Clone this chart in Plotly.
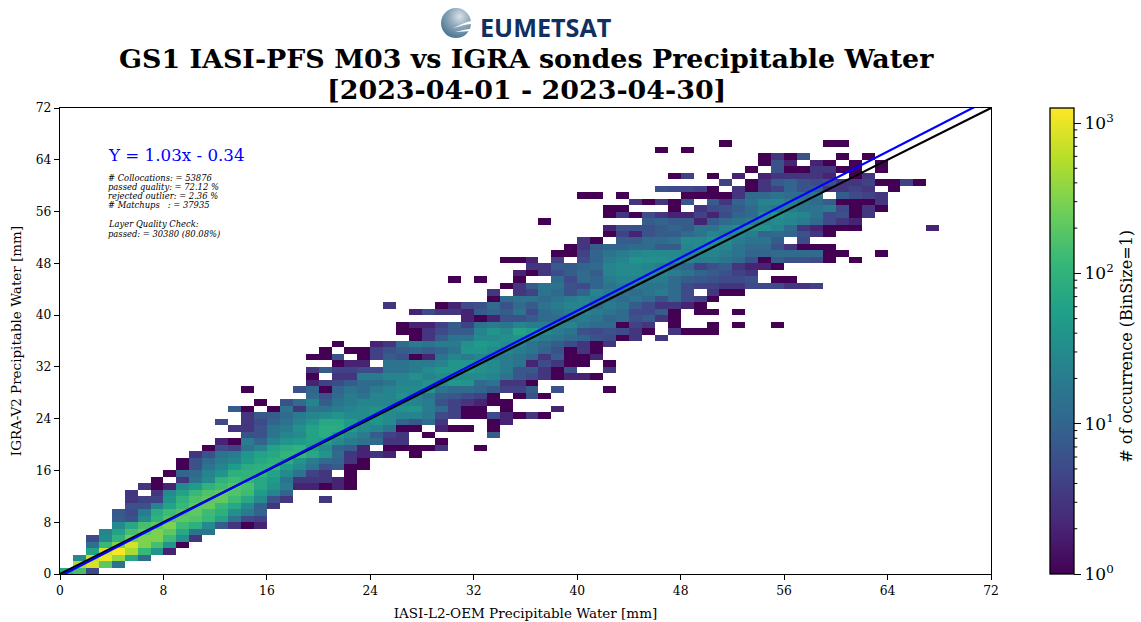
import math
import plotly.graph_objects as go

# first x bin of each y bin (bin size = 1 mm), y bins 0..66
row_start = [0,1,1,2,2,2,3,4,4,4,5,5,5,6,7,8,9,9,10,11,12,14,13,12,14,13,15,19,14,19,19,19,21,19,20,21,
             27,26,26,31,27,25,33,33,34,30,35,36,34,38,39,40,42,42,37,42,42,44,40,46,51,47,53,54,54,46,51]
# counts per bin (0 = empty bin)
row_counts = [
 [80,150,5],
 [500,800,200,15],
 [30,700,1000,400,70,12],
 [60,800,1200,500,120,40,2],
 [14,120,300,800,300,150,40,1],
 [5,30,100,250,300,300,130,35,3],
 [25,60,150,200,300,200,70,15,15],
 [30,70,150,200,300,130,90,30,8,3,1,2],
 [8,6,30,100,170,200,170,120,60,15,5,4],
 [7,5,20,80,130,170,200,130,90,35,20,10],
 [6,6,25,60,120,200,220,120,70,30,9,3],
 [3,4,4,40,100,160,200,220,130,70,30,6,3,0,0,3],
 [3,0,3,30,60,120,170,200,170,130,50,25,10],
 [3,1,2,30,50,100,130,170,150,70,40,20,2,2,1,2,1],
 [1,0,3,15,30,100,130,100,70,50,15,3,3,3,2,1],
 [1,10,12,25,40,90,100,100,60,30,15,4,3,0,1],
 [1,6,15,25,50,80,90,110,50,30,15,6,8,1,1],
 [1,6,12,20,25,50,70,90,80,40,20,12,10,3,1],
 [3,6,15,20,40,60,70,110,110,70,40,12,3,2,3,2,0,1],
 [1,5,4,15,25,60,80,100,50,30,10,8,2,0,1,1,1,1,3,0,0,1],
 [2,1,20,10,25,40,50,60,50,30,20,15,12,3,3,0,0,1],
 [6,6,15,25,30,60,80,50,30,20,8,4,3,0,1,0,0,0,0,8],
 [3,3,6,15,20,35,60,80,80,50,30,25,15,1,1,0,2,1,1,0,1],
 [5,0,3,5,10,15,25,40,70,70,50,30,40,30,10,7,12,3,0,0,0,1,2],
 [3,7,8,12,20,25,30,40,30,30,40,30,25,25,18,5,4,1,1,5,2,1,3,1],
 [8,1,0,1,15,3,15,15,20,25,30,35,30,35,40,20,12,4,1,1,0,1,0,0,0,2],
 [1,0,6,12,25,8,15,20,25,25,25,25,25,20,6,4,3,2,1,1],
 [12,6,12,20,15,25,25,35,25,15,8,7,5,4,1,0,1,6,1],
 [1,0,0,0,6,10,1,10,15,12,20,25,30,30,40,15,12,12,10,7,4,4,8,0,6,0,0,0,1],
 [2,4,5,8,12,12,15,25,25,35,30,45,40,12,15,3,3,1],
 [1,0,3,3,20,20,25,25,35,25,30,30,30,30,25,15,7,5,3,1,2,2,1],
 [3,8,4,4,5,5,15,15,20,30,40,40,45,35,30,20,7,7,3,1,6,0,0,3],
 [1,2,2,0,15,15,20,20,25,40,40,35,30,20,15,2,5,3,1,1,0,1],
 [1,1,6,0,1,4,8,6,1,2,15,25,20,25,20,20,15,10,3,8,1,1,2],
 [1,0,1,1,4,6,8,10,8,10,15,40,40,30,25,20,15,10,6,1,3,1],
 [1,0,0,2,3,12,20,15,20,20,35,50,40,30,25,15,12,8,5,3,1,3],
 [1,3,8,15,15,30,30,35,40,25,20,15,12,10,6,5,1,3,0,3],
 [1,1,3,5,8,8,25,40,30,60,50,30,20,15,6,5,6,5,3,1,0,3,1,1,1],
 [1,2,2,4,8,4,15,20,15,25,20,20,25,25,15,12,12,1,4,3,0,1,0,0,1,0,1,0,0,1],
 [2,1,2,6,6,8,12,12,15,20,15,10,12,6,8,3,1],
 [2,5,3,3,2,8,10,8,15,5,12,15,20,25,20,15,12,5,5,8,1,0,1,1,0,1],
 [3,0,0,0,1,2,5,6,12,6,12,8,15,20,25,25,12,20,15,8,5,3,3,2,1],
 [1,12,15,15,12,15,20,25,20,15,12,15,12,6,12,5,4,1],
 [3,0,3,4,15,12,6,10,25,20,15,12,15,20,12,5,0,3,1,1],
 [1,3,8,15,15,6,5,10,15,20,20,15,15,12,5,4,4,3,3,5,5,5,3,3,4],
 [1,0,1,0,0,1,0,0,12,5,12,10,20,25,25,20,20,12,8,7,6,5,5,6,0,1,1],
 [2,1,3,5,8,12,8,25,30,30,30,25,20,15,10,8,6,4,3],
 [3,3,8,8,10,12,25,30,30,25,20,12,10,4,6,8,3,2,2,1],
 [1,1,2,0,4,0,5,10,20,25,40,35,35,30,25,20,20,15,12,6,1,8,6,6,5,1,0,1],
 [1,1,4,10,15,20,25,30,30,30,25,25,25,20,15,10,10,12,12,12,12,1,1,0,0,1],
 [1,3,8,10,10,12,12,8,8,25,30,30,25,15,12,12,6,3,1,1,1],
 [3,1,0,8,8,12,12,15,30,30,35,30,20,15,15,8,0,5],
 [1,4,2,6,8,8,12,15,25,20,25,20,10,12,10,6,3,1],
 [2,6,6,6,8,10,8,15,15,25,30,35,35,25,12,3,2,1,1,1,0,0,0,0,0,2],
 [1,0,0,0,0,0,0,0,8,10,8,8,2,8,12,15,20,25,30,25,20,12,5,3,2],
 [1,3,1,5,3,2,2,4,2,5,10,12,30,40,30,25,15,5,6,1,3],
 [1,1,0,0,0,1,0,3,5,6,8,12,20,15,20,15,15,20,5,1,3,1],
 [3,1,3,1,7,0,8,3,10,15,25,25,20,15,12,8,1,1,1,3],
 [1,1,0,1,0,0,0,0,1,1,1,1,3,12,12,15,12,12,15,0,8,5,4,3],
 [6,5,5,4,1,0,3,1,3,4,10,6,8,3,3,4,3,0,1],
 [4,0,1,3,8,10,6,5,6,3,3,4,1,1,4,1],
 [1,4,0,1,0,2,0,2,3,3,3,3,2,0,1,3],
 [1,0,6,1,1,3,3,1,1,0,1],
 [1,6,2,0,2,1,0,1,0,1],
 [1,3,1,6,0,0,1,0,1],
 [1,0,1],
 [1,0,0,0,0,0,0,0,1,1],
]
fit_slope = 1.025  # drawn fit, printed rounded in the label as 1.03
fit_intercept = -0.34
axis_end = [0, 72]
axis_ticks = [0, 8, 16, 24, 32, 40, 48, 56, 64, 72]
colorbar_decades = [0, 1, 2]
colorbar_minor = [2, 3, 4, 5, 6, 7, 8, 9]
stats_lines = ["# Collocations: = 53876", "passed quality: = 72.12 %", "rejected outlier: = 2.36 %",
               "# Matchups   : = 37935", "Layer Quality Check:", "passed: = 30380 (80.08%)"]
stats_y = [178, 187, 196, 205, 224, 234]

W, H = 1141, 622
L, R, T, B = 60, 991, 108, 574.5
SPAN = W - L

def px(x): return (x - L) / SPAN
def py(y): return (B - y) / (B - T)

z = [[None] * 72 for _ in range(72)]
for r, (s, vals) in enumerate(zip(row_start, row_counts)):
    for i, v in enumerate(vals):
        if v > 0:
            z[r][s + i] = math.log10(v)
centers = [i + 0.5 for i in range(72)]

fig = go.Figure()
fig.add_trace(go.Heatmap(
    x=centers, y=centers, z=z, zmin=0, zmax=3.1, colorscale="Viridis", hoverongaps=False,
    colorbar=dict(
        x=px(1049.5), xanchor="left", xpad=0, thickness=24, thicknessmode="pixels",
        y=0, yanchor="bottom", len=1, lenmode="fraction", ypad=0,
        tickvals=[0, 1, 2, 3],
        ticktext=["10<sup>0</sup>", "10<sup>1</sup>", "10<sup>2</sup>", "10<sup>3</sup>"],
        ticks="outside", ticklen=7, tickwidth=1, tickcolor="black",
        tickfont=dict(family="DejaVu Serif", size=17, color="black"),
        outlinecolor="black", outlinewidth=1.3,
    ),
))
fig.add_trace(go.Scatter(x=axis_end, y=axis_end, mode="lines", line=dict(color="black", width=2.2),
                         showlegend=False, hoverinfo="skip"))
fig.add_trace(go.Scatter(x=axis_end, y=[fit_slope * v + fit_intercept for v in axis_end], mode="lines",
                         line=dict(color="#0000ff", width=2.2), showlegend=False, hoverinfo="skip"))
# minor ticks of the log colour bar: short strokes on a narrow log axis just right of the bar
minor_vals = [m * 10 ** d for d in colorbar_decades for m in colorbar_minor]
seg_x, seg_y = [], []
for v in minor_vals:
    seg_x += [0, 1, None]
    seg_y += [v, v, None]
fig.add_trace(go.Scatter(x=seg_x, y=seg_y, xaxis="x2", yaxis="y2", mode="lines",
                         line=dict(color="black", width=1), connectgaps=False,
                         showlegend=False, hoverinfo="skip"))

axis_common = dict(range=axis_end, tickvals=axis_ticks, ticks="outside", ticklen=5, tickwidth=1,
                   tickcolor="black", showgrid=False, zeroline=False, showline=True, linecolor="black",
                   linewidth=1.4, mirror=True, tickfont=dict(family="DejaVu Serif", size=12.3, color="black"))
fig.update_layout(
    width=W, height=H, paper_bgcolor="white", plot_bgcolor="white",
    margin=dict(l=L, r=0, t=T, b=47.5, autoexpand=False),
    xaxis=dict(domain=[0, px(R)],
               title=dict(text="IASI-L2-OEM Precipitable Water [mm]", standoff=11,
                          font=dict(family="DejaVu Serif", size=13.5, color="black")), **axis_common),
    yaxis=dict(title=dict(text="IGRA-V2 Precipitable Water [mm]", standoff=10,
                          font=dict(family="DejaVu Serif", size=13.5, color="black")), **axis_common),
    xaxis2=dict(domain=[px(1073.5), px(1077.5)], range=[0, 1], anchor="y2", showgrid=False, zeroline=False,
                showline=False, showticklabels=False, ticks=""),
    yaxis2=dict(domain=[0, 1], type="log", range=[0, 3.1], anchor="x2", showgrid=False, zeroline=False,
                showline=False, showticklabels=False, ticks=""),
    images=[dict(
        source=("data:image/svg+xml;utf8,<svg xmlns='http://www.w3.org/2000/svg' viewBox='0 0 30 32'>"
                "<defs><radialGradient id='g' cx='0.62' cy='0.28' r='0.8'>"
                "<stop offset='0' stop-color='%23d9e2ea'/><stop offset='0.45' stop-color='%238ea6b8'/>"
                "<stop offset='1' stop-color='%233f6f8f'/></radialGradient></defs>"
                "<circle cx='15' cy='16' r='15' fill='url(%23g)'/>"
                "<path d='M12 21 C18 19 24 15 30 14 L30 17 C24 17 18 20 12 21Z' fill='white'/>"
                "<path d='M14 25 C20 24 25 22 30 22 L30 24 C25 24 20 25 14 25Z' fill='white'/></svg>"),
        xref="paper", yref="paper", x=px(441), y=py(7), sizex=30 / SPAN, sizey=32 / (B - T),
        xanchor="left", yanchor="top", sizing="stretch", layer="above")],
    annotations=[
        dict(text="<b>EUMETSAT</b>", xref="paper", yref="paper", x=px(478), y=py(27), xanchor="left",
             yanchor="middle", showarrow=False,
             font=dict(family="Open Sans", size=25.2, color="#10305f")),
        dict(text="<b>GS1 IASI-PFS M03 vs IGRA sondes Precipitable Water</b>", xref="paper", yref="paper",
             x=px(526.5), y=py(58), xanchor="center", yanchor="middle", showarrow=False,
             font=dict(family="DejaVu Serif", size=26.9, color="black")),
        dict(text="<b>[2023-04-01 - 2023-04-30]</b>", xref="paper", yref="paper",
             x=px(526.5), y=py(89), xanchor="center", yanchor="middle", showarrow=False,
             font=dict(family="DejaVu Serif", size=26.9, color="black")),
        dict(text="Y = 1.03x - 0.34", xref="paper", yref="paper", x=px(105.5), y=py(155), xanchor="left",
             yanchor="middle", showarrow=False, font=dict(family="DejaVu Serif", size=16.7, color="#0000ff")),
        dict(text="# of occurrence (BinSize=1)", xref="paper", yref="paper", x=px(1127), y=py(347),
             xanchor="center", yanchor="middle", textangle=-90, showarrow=False,
             font=dict(family="DejaVu Serif", size=16, color="black")),
    ] + [
        dict(text=f"<i>{t}</i>", xref="paper", yref="paper", x=px(105.5), y=py(v), xanchor="left",
             yanchor="middle", showarrow=False, font=dict(family="DejaVu Serif", size=8.4, color="black"))
        for t, v in zip(stats_lines, stats_y)
    ],
)
fig.write_html("out.html", config=dict(displayModeBar=False),
               post_script="document.body.style.margin='0';document.documentElement.style.overflow='hidden';")
